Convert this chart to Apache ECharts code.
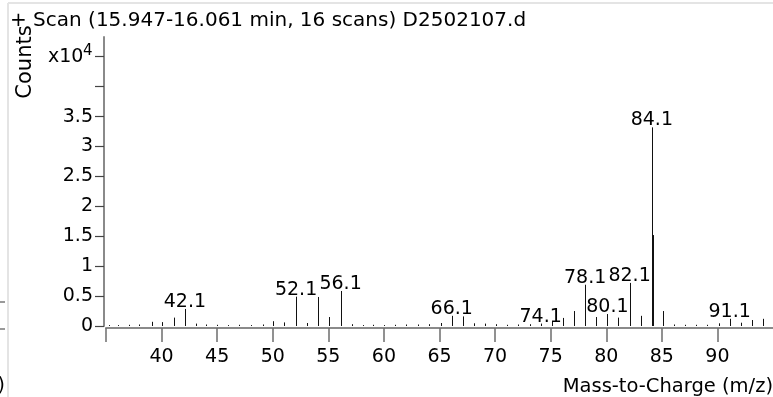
<!DOCTYPE html>
<html>
<head>
<meta charset="utf-8">
<script src="https://cdn.jsdelivr.net/npm/echarts@6/dist/echarts.min.js"></script>
<style>
  html, body { margin: 0; padding: 0; background: #fff; }
  #chart { width: 773px; height: 397px; }
</style>
</head>
<body>
<div id="chart"></div>
<script>
// Mass spectrum: m/z positions and their counts
const mzValues = [
  35.3, 36.1, 37.1, 38.0, 39.1, 40.0, 41.1, 42.1, 43.1, 44.0,
  45.0, 46.0, 47.0, 48.0, 49.1, 50.0, 51.0, 52.1, 53.1, 54.1,
  55.1, 56.1, 57.1, 58.1, 59.0, 60.0, 61.0, 62.0, 63.1, 64.1,
  65.1, 66.1, 67.1, 68.1, 69.1, 70.1, 71.1, 72.1, 73.1, 74.1,
  75.1, 76.1, 77.1, 78.1, 79.1, 80.1, 81.1, 82.1, 83.1, 84.1,
  84.25, 85.1, 86.1, 87.1, 88.1, 89.1, 90.1, 91.1, 92.1, 93.1,
  94.1
];
const countValues = [
  150, 150, 200, 250, 700, 650, 1400, 2850, 400, 250,
  200, 150, 200, 150, 250, 800, 600, 4900, 500, 4850,
  1500, 5850, 300, 150, 200, 150, 200, 250, 250, 300,
  500, 1700, 1600, 450, 400, 300, 200, 250, 300, 400,
  850, 1350, 2500, 6900, 1500, 2000, 1400, 7200, 1700, 33200,
  15200, 2500, 250, 200, 200, 200, 450, 1200, 550, 1000,
  1200
];
// peaks that carry an m/z annotation
const labeledMz = [42.1, 52.1, 56.1, 66.1, 74.1, 78.1, 80.1, 82.1, 84.1, 91.1];

// axis ticks and labels
const xTickValues = [35, 40, 45, 50, 55, 60, 65, 70, 75, 80, 85, 90];
const xLabelValues = [40, 45, 50, 55, 60, 65, 70, 75, 80, 85, 90];
const yTickValues = [0, 5000, 10000, 15000, 20000, 25000, 30000, 35000, 40000, 45000];
const yLabelValues = [0, 5000, 10000, 15000, 20000, 25000, 30000, 35000];

const titleText = '+ Scan (15.947-16.061 min, 16 scans) D2502107.d';
const FONT = 'DejaVu Sans';

const peakData = mzValues.map((m, i) => [m, countValues[i]]);
const labelData = labeledMz.map(m => [m, countValues[mzValues.indexOf(m)]]);

const chart = echarts.init(document.getElementById('chart'), null, { renderer: 'canvas' });

chart.setOption({
  animation: false,
  backgroundColor: '#fff',
  textStyle: { fontFamily: FONT },
  grid: { left: 106, top: 37, width: 667, height: 289, containLabel: false },
  xAxis: {
    type: 'value',
    min: 35,
    max: 95,
    interval: 5,
    offset: 2,
    axisLine: { show: true, onZero: false, lineStyle: { color: '#8a8a8a', width: 2 } },
    axisTick: { show: true, length: 14, customValues: xTickValues, lineStyle: { color: '#6e6e6e', width: 1.5 } },
    axisLabel: { customValues: xLabelValues, margin: 20, color: '#000', fontSize: 19, fontFamily: FONT },
    splitLine: { show: false }
  },
  yAxis: {
    type: 'value',
    min: 0,
    max: 48300,
    interval: 5000,
    offset: 2,
    axisLine: { show: true, lineStyle: { color: '#8a8a8a', width: 2 } },
    axisTick: { show: true, length: 9, customValues: yTickValues, lineStyle: { color: '#444', width: 1.2 } },
    axisLabel: {
      customValues: yLabelValues, margin: 11, color: '#000', fontSize: 19, fontFamily: FONT,
      formatter: v => String(v / 10000)
    },
    splitLine: { show: false }
  },
  series: [
    {
      type: 'custom',
      coordinateSystem: 'cartesian2d',
      data: peakData,
      renderItem: (params, api) => {
        const m = api.value(0), v = api.value(1);
        const p0 = api.coord([m, 0]);
        const p1 = api.coord([m, v]);
        const x = Math.round(p0[0]) + 0.5;
        return {
          type: 'line',
          shape: { x1: x, y1: p0[1], x2: x, y2: p1[1] },
          style: { stroke: '#111', lineWidth: 1 }
        };
      }
    },
    {
      type: 'custom',
      coordinateSystem: 'cartesian2d',
      data: labelData,
      renderItem: (params, api) => {
        const m = api.value(0), v = api.value(1);
        const p = api.coord([m, v]);
        return {
          type: 'text',
          style: {
            text: m.toFixed(1),
            x: p[0], y: p[1] - 7,
            align: 'center', verticalAlign: 'middle',
            fontSize: 19, fontFamily: FONT, fill: '#000'
          }
        };
      }
    }
  ],
  graphic: [
    // frame lines of the panel
    { type: 'line', shape: { x1: 8, y1: 3, x2: 773, y2: 3 }, style: { stroke: '#e4e4e4', lineWidth: 2 } },
    { type: 'line', shape: { x1: 8, y1: 3, x2: 8, y2: 397 }, style: { stroke: '#e4e4e4', lineWidth: 2 } },
    // edge of the neighbouring panel
    { type: 'line', shape: { x1: 0, y1: 302, x2: 5, y2: 302 }, style: { stroke: '#777', lineWidth: 1.5 } },
    { type: 'line', shape: { x1: 0, y1: 329, x2: 5, y2: 329 }, style: { stroke: '#777', lineWidth: 1.5 } },
    { type: 'text', style: { text: ')', x: 5, y: 386, align: 'right', verticalAlign: 'middle', fontSize: 19, fontFamily: FONT, fill: '#000' } },
    // title
    { type: 'text', style: { text: titleText, x: 10, y: 21, align: 'left', verticalAlign: 'middle', fontSize: 20, fontFamily: FONT, fill: '#000' } },
    // y axis name and exponent
    { type: 'text', x: 26, y: 62, rotation: Math.PI / 2, style: { text: 'Counts', x: 0, y: 0, align: 'center', verticalAlign: 'middle', fontSize: 21, fontFamily: FONT, fill: '#000' } },
    { type: 'text', style: { text: 'x10', x: 48, y: 57, align: 'left', verticalAlign: 'middle', fontSize: 19, fontFamily: FONT, fill: '#000' } },
    { type: 'text', style: { text: '4', x: 83, y: 51, align: 'left', verticalAlign: 'middle', fontSize: 15, fontFamily: FONT, fill: '#000' } },
    // x axis name
    { type: 'text', style: { text: 'Mass-to-Charge (m/z)', x: 773, y: 387, align: 'right', verticalAlign: 'middle', fontSize: 19.5, fontFamily: FONT, fill: '#000' } }
  ]
});
</script>
</body>
</html>
